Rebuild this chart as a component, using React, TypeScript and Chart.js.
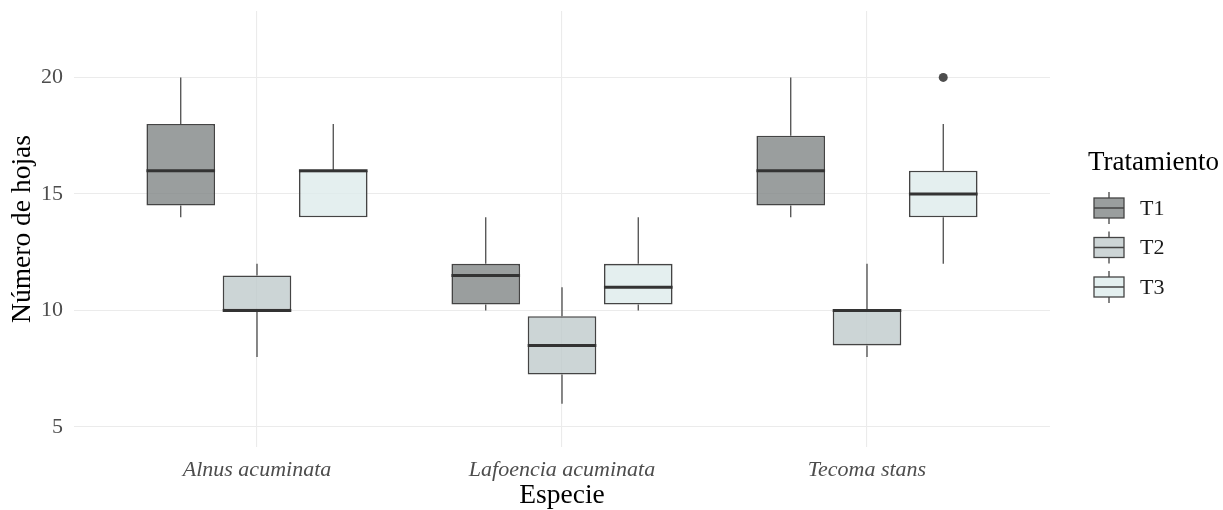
import React, { useEffect, useRef } from "react";
import { Chart, registerables } from "chart.js";

Chart.register(...registerables);

const categories = ["Alnus acuminata", "Lafoencia acuminata", "Tecoma stans"];
const treatments = ["T1", "T2", "T3"];
const yTicks = [5, 10, 15, 20];

const t1Min = [14, 10, 14];
const t1Q1 = [14.5, 10.25, 14.5];
const t1Med = [16, 11.5, 16];
const t1Q3 = [18, 12, 17.5];
const t1Max = [20, 14, 20];

const t2Min = [8, 6, 8];
const t2Q1 = [10, 7.25, 8.5];
const t2Med = [10, 8.5, 10];
const t2Q3 = [11.5, 9.75, 10];
const t2Max = [12, 11, 12];

const t3Min = [14, 10, 12];
const t3Q1 = [14, 10.25, 14];
const t3Med = [16, 11, 15];
const t3Q3 = [16, 12, 16];
const t3Max = [18, 14, 18];

const outlierCategory = ["Tecoma stans"];
const outlierTreatment = ["T3"];
const outlierValue = [20];

const fills = ["rgba(126,131,131,0.78)", "rgba(190,201,202,0.78)", "rgba(220,235,235,0.78)"];
const legendFills = ["#9a9e9e", "#cdd5d6", "#e4f0f0"];
const FONT = '"Liberation Serif", "Times New Roman", serif';
const DODGE = 0.25;

const stats = [
  { min: t1Min, q1: t1Q1, med: t1Med, q3: t1Q3, max: t1Max },
  { min: t2Min, q1: t2Q1, med: t2Med, q3: t2Q3, max: t2Max },
  { min: t3Min, q1: t3Q1, med: t3Med, q3: t3Q3, max: t3Max },
];

const xPos = (catIdx: number, trIdx: number) => catIdx + 1 + (trIdx - 1) * DODGE;

const boxPlugin = {
  id: "boxExtras",
  beforeDatasetsDraw(chart: any) {
    const { ctx, scales } = chart;
    const x = scales.x, y = scales.y;
    ctx.save();
    ctx.strokeStyle = "#3f3f3f";
    ctx.lineWidth = 1.2;
    stats.forEach((s, t) => {
      categories.forEach((_, c) => {
        const px = x.getPixelForValue(xPos(c, t));
        ctx.beginPath();
        ctx.moveTo(px, y.getPixelForValue(s.max[c]));
        ctx.lineTo(px, y.getPixelForValue(s.q3[c]));
        ctx.moveTo(px, y.getPixelForValue(s.q1[c]));
        ctx.lineTo(px, y.getPixelForValue(s.min[c]));
        ctx.stroke();
      });
    });
    ctx.restore();
  },
  afterDatasetsDraw(chart: any) {
    const { ctx, scales } = chart;
    const y = scales.y;
    ctx.save();
    ctx.strokeStyle = "#333333";
    ctx.lineWidth = 3;
    stats.forEach((s, t) => {
      const meta = chart.getDatasetMeta(t);
      categories.forEach((_, c) => {
        const el = meta.data[c];
        const py = y.getPixelForValue(s.med[c]);
        ctx.beginPath();
        ctx.moveTo(el.x - el.width / 2, py);
        ctx.lineTo(el.x + el.width / 2, py);
        ctx.stroke();
      });
    });
    ctx.restore();
  },
  afterDraw(chart: any) {
    const { ctx } = chart;
    ctx.save();
    ctx.fillStyle = "#000";
    ctx.font = `27px ${FONT}`;
    ctx.textBaseline = "middle";
    ctx.textAlign = "left";
    ctx.fillText("Tratamiento", 1088, 163);
    treatments.forEach((t, i) => {
      const cy = 208 + i * 39.5;
      const x0 = 1094, w = 30, h = 20;
      ctx.fillStyle = legendFills[i];
      ctx.fillRect(x0, cy - h / 2, w, h);
      ctx.strokeStyle = "#444";
      ctx.lineWidth = 1.3;
      ctx.strokeRect(x0, cy - h / 2, w, h);
      ctx.beginPath();
      ctx.moveTo(x0, cy);
      ctx.lineTo(x0 + w, cy);
      ctx.moveTo(x0 + w / 2, cy - h / 2 - 6);
      ctx.lineTo(x0 + w / 2, cy - h / 2);
      ctx.moveTo(x0 + w / 2, cy + h / 2);
      ctx.lineTo(x0 + w / 2, cy + h / 2 + 6);
      ctx.stroke();
      ctx.fillStyle = "#1a1a1a";
      ctx.font = `22px ${FONT}`;
      ctx.fillText(t, 1140, cy + 1);
    });
    ctx.restore();
  },
};

export default function App() {
  const ref = useRef<HTMLCanvasElement | null>(null);
  useEffect(() => {
    document.body.style.margin = "0";
    const canvas = ref.current;
    if (!canvas) return;
    const datasets: any[] = stats.map((s, t) => ({
      type: "bar",
      label: treatments[t],
      data: categories.map((_, c) => ({ x: xPos(c, t), y: [s.q1[c], s.q3[c]] })),
      backgroundColor: fills[t],
      borderColor: "#444444",
      borderWidth: 1.6,
      borderSkipped: false,
      grouped: false,
      categoryPercentage: 1,
      barPercentage: 0.9,
    }));
    datasets.push({
      type: "scatter",
      label: "outliers",
      data: outlierValue.map((v, i) => ({
        x: xPos(categories.indexOf(outlierCategory[i]), treatments.indexOf(outlierTreatment[i])),
        y: v,
      })),
      backgroundColor: "#4d4d4d",
      borderColor: "#4d4d4d",
      pointRadius: 4.5,
      borderWidth: 0,
    });
    const chart = new Chart(canvas, {
      type: "bar",
      data: { datasets },
      plugins: [boxPlugin],
      options: {
        animation: false,
        responsive: false,
        devicePixelRatio: 1,
        layout: { padding: { top: 11, right: 173, left: 0, bottom: 0 } },
        plugins: { legend: { display: false }, tooltip: { enabled: false } },
        scales: {
          x: {
            type: "linear",
            min: 0.4,
            max: 3.6,
            offset: false,
            afterBuildTicks: (scale: any) => {
              scale.ticks = categories.map((_, i) => ({ value: i + 1 }));
            },
            afterFit: (scale: any) => {
              scale.height = 63;
              scale.paddingLeft = 0;
              scale.paddingRight = 0;
            },
            ticks: {
              callback: (v: any) => categories[Math.round(v) - 1] ?? "",
              font: { family: FONT, size: 22, style: "italic" },
              color: "#4d4d4d",
              padding: 10,
              maxRotation: 0,
              autoSkip: false,
            },
            grid: { color: "#ebebeb", lineWidth: 1.1, drawTicks: false, offset: false },
            border: { display: false },
            title: {
              display: true,
              text: "Especie",
              font: { family: FONT, size: 27.5, lineHeight: 1 },
              color: "#000",
              padding: 0,
            },
          },
          y: {
            type: "linear",
            min: 4.14,
            max: 22.85,
            afterBuildTicks: (scale: any) => {
              scale.ticks = yTicks.map((v) => ({ value: v }));
            },
            afterFit: (scale: any) => {
              scale.width = 74;
              scale.paddingTop = 0;
              scale.paddingBottom = 0;
            },
            ticks: {
              callback: (v: any) => String(v),
              font: { family: FONT, size: 22 },
              color: "#4d4d4d",
              padding: 11,
            },
            grid: { color: "#ebebeb", lineWidth: 1.1, drawTicks: false },
            border: { display: false },
            title: {
              display: true,
              text: "Número de hojas",
              font: { family: FONT, size: 27.5, lineHeight: 1 },
              color: "#000",
              padding: { top: 9, bottom: 0 },
            },
          },
        },
      } as any,
    });
    return () => chart.destroy();
  }, []);
  return (
    <div style={{ width: 1223, height: 510 }}>
      <canvas ref={ref} width={1223} height={510} />
    </div>
  );
}
